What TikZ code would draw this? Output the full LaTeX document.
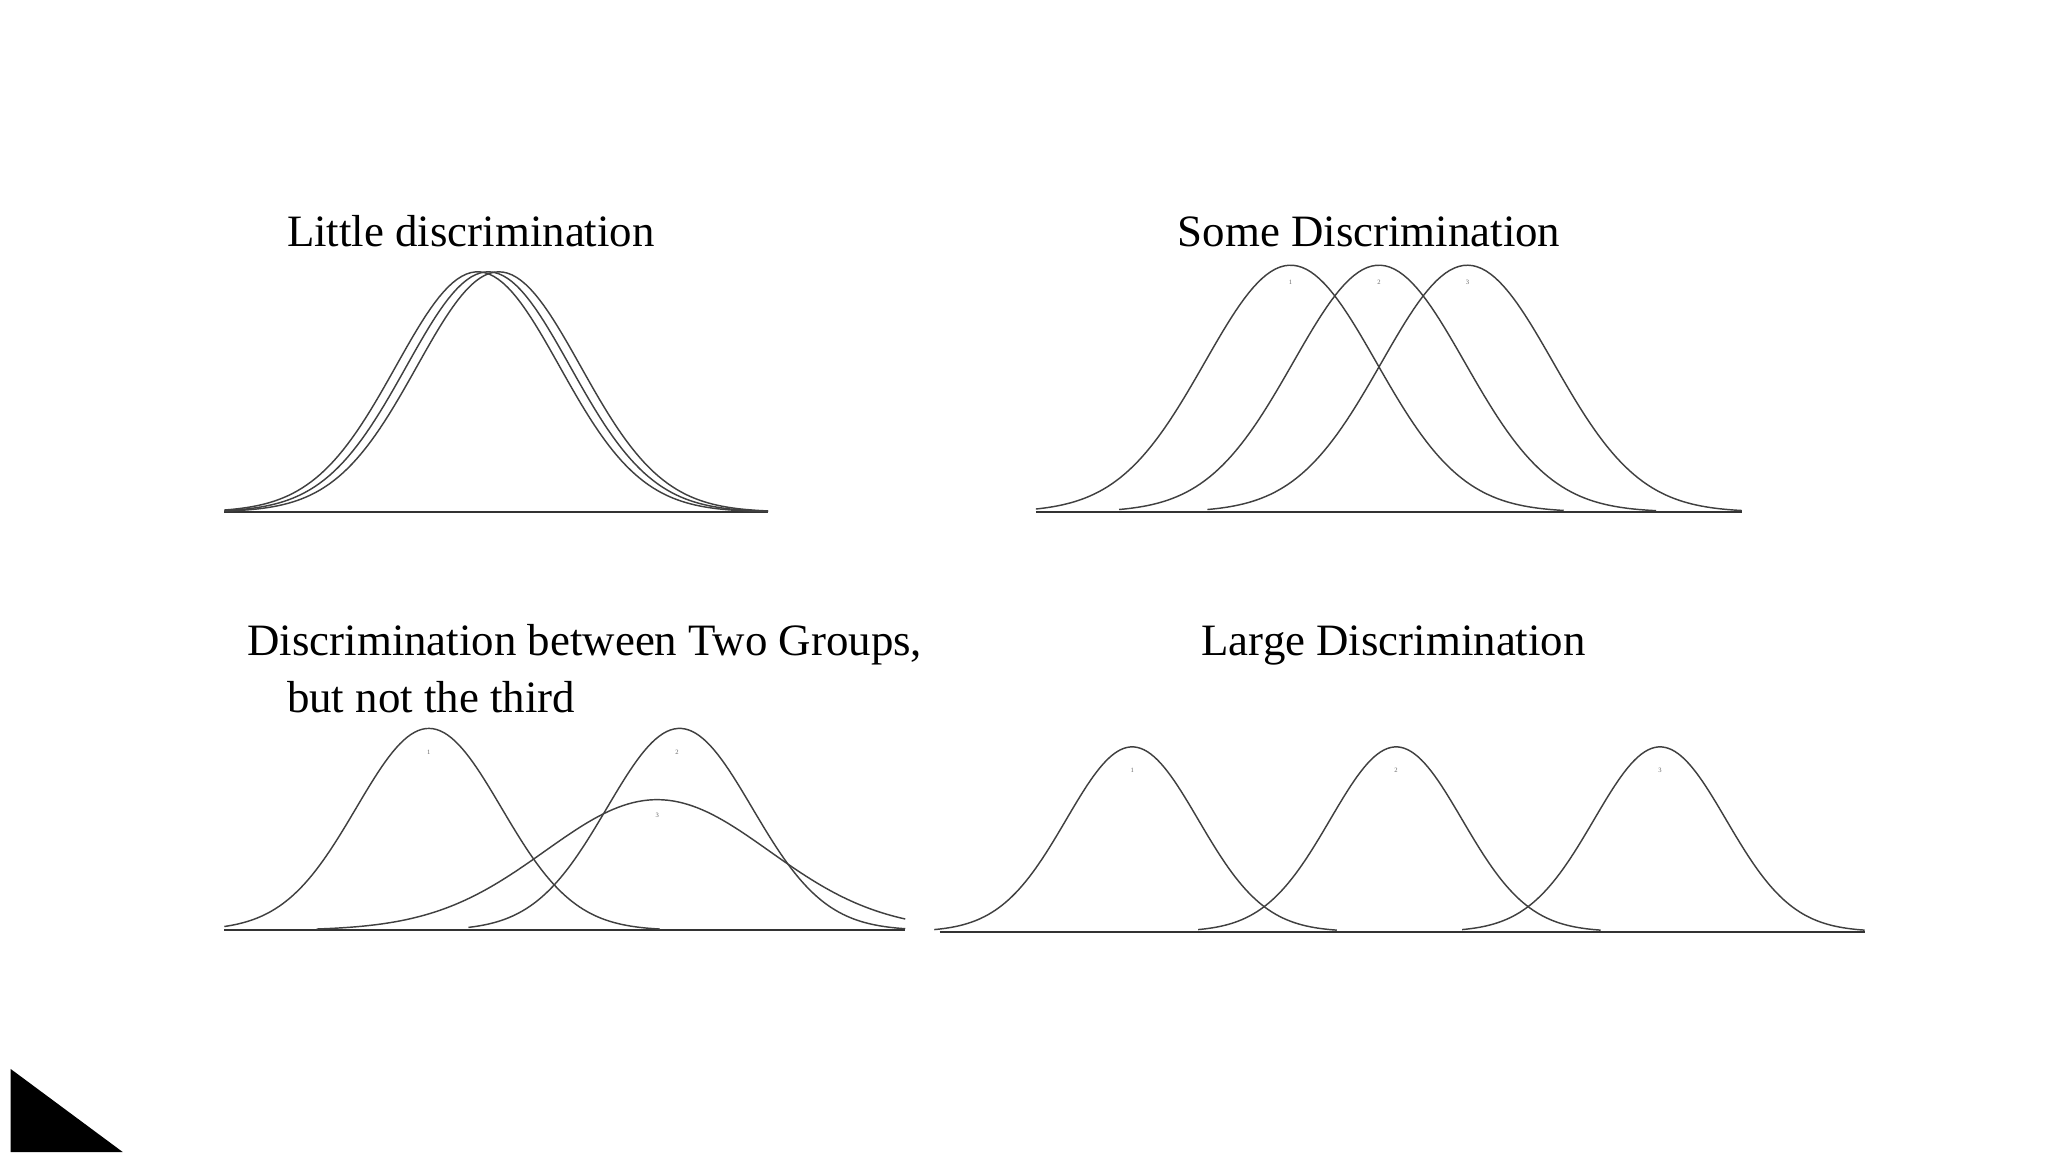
\documentclass[tikz,border=0pt]{standalone}
\usepackage{fontspec}
\setmainfont{Liberation Serif}
\begin{document}
\begin{tikzpicture}[x=1pt,y=-1pt,
  curve/.style={draw=black!75,line width=1.1pt},
  base/.style={draw=black!80,line width=1.6pt},
  ttl/.style={font=\fontsize{34}{38}\selectfont,anchor=base west},
  tiny/.style={font=\fontsize{5}{5}\selectfont,text=black!60}]
\useasboundingbox (0,0) rectangle (1552,873);
% panel 1
\node[ttl] (t1) at (214,187) {Little discrimination};
\draw[base] (170,388) -- (582,388);
\foreach \m in {362,370,378}
  \draw[curve] plot[domain=170:582,samples=120] (\x,{388-182*exp(-((\x-\m)/62)^2/2)});
% panel 2
\node[ttl] (t2) at (889,187) {Some Discrimination};
\draw[base] (785,388) -- (1320,388);
\foreach \m/\a/\b/\l in {978/785/1185/1,1045/848/1255/2,1112/915/1320/3}{
  \draw[curve] plot[domain=\a:\b,samples=120] (\x,{388-187*exp(-((\x-\m)/65)^2/2)});
  \node[tiny] at (\m,214) {\l};}
% panel 3
\node[ttl] (t3) at (184,497) {Discrimination between Two Groups,};
\node[ttl] (t3b) at (214,540) {but not the third};
\draw[base] (170,705) -- (686,705);
\draw[curve] plot[domain=170:500,samples=120] (\x,{705-153*exp(-((\x-325)/55)^2/2)});
\draw[curve] plot[domain=355:686,samples=120] (\x,{705-153*exp(-((\x-515)/55)^2/2)});
\draw[curve] plot[domain=240:686,samples=120] (\x,{705-99*exp(-((\x-498)/85)^2/2)});
\node[tiny] at (325,570) {1};
\node[tiny] at (513,570) {2};
\node[tiny] at (498,618) {3};
% panel 4
\node[ttl] (t4) at (907,497) {Large Discrimination};
\draw[base] (712,706) -- (1413,706);
\foreach \m/\l in {858/1,1058/2,1258/3}{
  \draw[curve] plot[domain=\m-150:\m+155,samples=120] (\x,{706-140*exp(-((\x-\m)/50)^2/2)});
  \node[tiny] at (\m,584) {\l};}
% triangle
\fill[black] (8,810) -- (8,873) -- (93,873) -- cycle;
\end{tikzpicture}
\end{document}
